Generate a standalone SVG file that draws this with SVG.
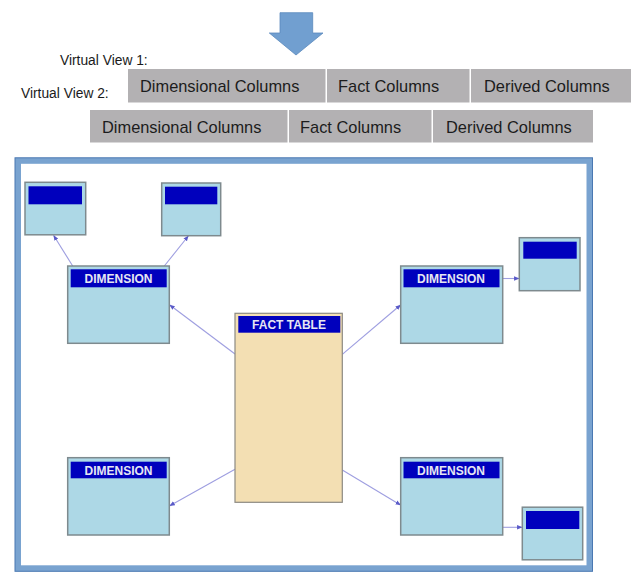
<svg xmlns="http://www.w3.org/2000/svg" width="641" height="583" viewBox="0 0 641 583">
<style>
.lbl{font-family:"Liberation Sans",Arial,sans-serif;font-size:13.8px;fill:#1a1a1a}
.col{fill:#b3b1b3}
.ct{font-family:"Liberation Sans",Arial,sans-serif;font-size:16.4px;fill:#1c1c1c}
.box{fill:#add8e6;stroke:#7e8a8e;stroke-width:1.5}
.hdr{fill:#0000bd}
.ht{font-family:"Liberation Sans",Arial,sans-serif;font-size:12px;font-weight:bold;fill:#e6e6f2;text-anchor:middle}
.fact{fill:#f3dfb3;stroke:#8c8a82;stroke-width:1.2}
.con{stroke:#9e9ee0;stroke-width:1.1;fill:none;marker-end:url(#ah)}
</style>
<defs>
<marker id="ah" viewBox="0 0 10 10" refX="9" refY="5" markerWidth="5" markerHeight="5" orient="auto" markerUnits="strokeWidth">
<path d="M0,1 L10,5 L0,9 z" fill="#5a5ac8"/>
</marker>
</defs>
<rect width="641" height="583" fill="#ffffff"/>
<g id="down-arrow">
<polygon points="280,12.7 312.7,12.7 312.7,33 323,33 296,55 269.3,33 280,33" fill="#719fd0" stroke="#5b89bd" stroke-width="0.8"/>
</g>
<g id="views">
<text class="lbl" x="60" y="64.5">Virtual View 1:</text>
<text class="lbl" x="21" y="97.5">Virtual View 2:</text>
<g id="view1">
<rect class="col" x="128" y="69" width="197.5" height="33.5"/>
<rect class="col" x="327" y="69" width="142.5" height="33.5"/>
<rect class="col" x="471" y="69" width="160" height="33.5"/>
<text class="ct" x="140" y="92">Dimensional Columns</text>
<text class="ct" x="338" y="92">Fact Columns</text>
<text class="ct" x="484" y="92">Derived Columns</text>
</g>
<g id="view2">
<rect class="col" x="90" y="110" width="197.5" height="32.5"/>
<rect class="col" x="289" y="110" width="142.5" height="32.5"/>
<rect class="col" x="433" y="110" width="160" height="32.5"/>
<text class="ct" x="102" y="132.5">Dimensional Columns</text>
<text class="ct" x="300" y="132.5">Fact Columns</text>
<text class="ct" x="446" y="132.5">Derived Columns</text>
</g>
</g>
<g id="frame">
<rect x="18" y="160.8" width="571.5" height="407.5" fill="#ffffff" stroke="#79a3d0" stroke-width="6"/>
<rect x="15" y="157.8" width="577.5" height="413.5" fill="none" stroke="#4a78b2" stroke-width="1"/>
</g>
<g id="connectors">
<line class="con" x1="72.7" y1="266" x2="53.7" y2="235.5"/>
<line class="con" x1="164.3" y1="266" x2="188.3" y2="236"/>
<line class="con" x1="235" y1="354" x2="169.8" y2="305"/>
<line class="con" x1="342.3" y1="354.3" x2="400.5" y2="305"/>
<line class="con" x1="502.7" y1="278.5" x2="519" y2="278.5"/>
<line class="con" x1="235" y1="469.3" x2="169.8" y2="505.7"/>
<line class="con" x1="342.3" y1="470" x2="400.5" y2="505"/>
<line class="con" x1="502.7" y1="527.3" x2="522" y2="527.3"/>
</g>
<g id="sub-tl1">
<rect class="box" x="25" y="182.3" width="60.7" height="52.5"/>
<rect class="hdr" x="28.5" y="186.3" width="53.5" height="18"/>
</g>
<g id="sub-tl2">
<rect class="box" x="161.7" y="183" width="59" height="52.7"/>
<rect class="hdr" x="165" y="186.7" width="52.3" height="17.6"/>
</g>
<g id="dim-tl">
<rect class="box" x="67.7" y="266" width="101.6" height="77.3"/>
<rect class="hdr" x="70.7" y="269.3" width="96" height="18"/>
<text class="ht" x="118.5" y="282.8">DIMENSION</text>
</g>
<g id="dim-tr">
<rect class="box" x="400.7" y="266" width="102" height="77.3"/>
<rect class="hdr" x="403.5" y="269.3" width="96" height="18"/>
<text class="ht" x="451" y="282.8">DIMENSION</text>
</g>
<g id="sub-r">
<rect class="box" x="519.3" y="237.7" width="60.7" height="53"/>
<rect class="hdr" x="523.3" y="241.7" width="53.4" height="17"/>
</g>
<g id="fact-table">
<rect class="fact" x="235" y="313.3" width="107.3" height="189"/>
<rect class="hdr" x="238.3" y="316" width="102" height="16.7"/>
<text class="ht" x="289" y="329.3">FACT TABLE</text>
</g>
<g id="dim-bl">
<rect class="box" x="67.7" y="457.7" width="101.6" height="77.3"/>
<rect class="hdr" x="70.7" y="461.7" width="96" height="16.6"/>
<text class="ht" x="118.5" y="474.8">DIMENSION</text>
</g>
<g id="dim-br">
<rect class="box" x="400.7" y="457.7" width="102" height="77.3"/>
<rect class="hdr" x="403.5" y="461.7" width="96" height="16.6"/>
<text class="ht" x="451" y="474.8">DIMENSION</text>
</g>
<g id="sub-br">
<rect class="box" x="522.3" y="507.2" width="60.4" height="52.6"/>
<rect class="hdr" x="526" y="511" width="53.3" height="18"/>
</g>
</svg>
